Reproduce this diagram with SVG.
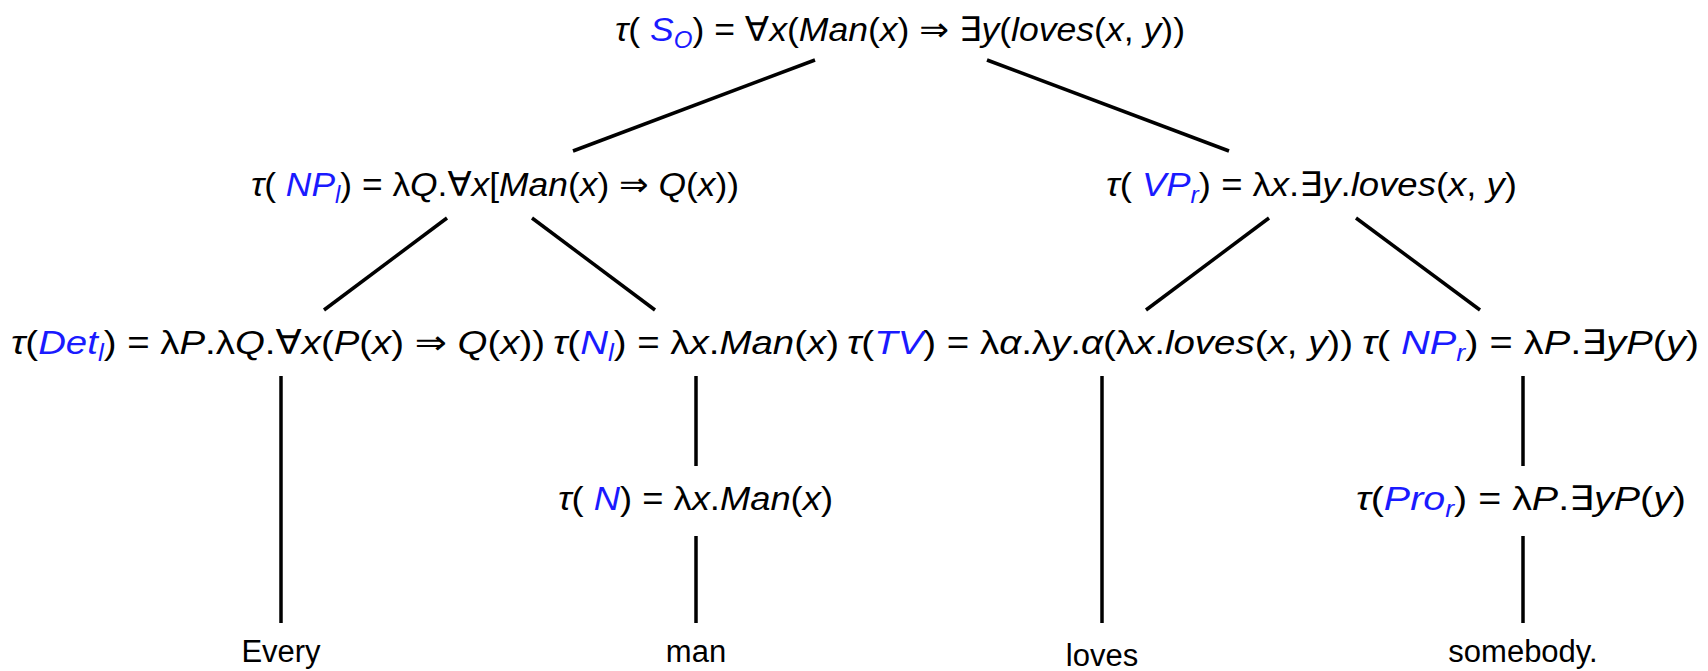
<svg xmlns="http://www.w3.org/2000/svg" width="1708" height="671" viewBox="0 0 1708 671">
<style>
.m{font-family:"Liberation Sans","DejaVu Sans",sans-serif;font-size:34px;fill:#000}
.i{font-style:italic}
.b{fill:#1a1aff}
.s{font-size:23px}
.w{font-family:"Liberation Sans",Arial,sans-serif;font-size:31px;fill:#000;text-anchor:middle}
.c line{stroke:#000;stroke-width:3.5;stroke-linecap:butt}
</style>
<rect width="1708" height="671" fill="#fff"/>
<g id="connectors" class="c">
<line x1="815" y1="60" x2="573" y2="151"/>
<line x1="987" y1="60" x2="1229" y2="151"/>
<line x1="447" y1="218" x2="324" y2="310"/>
<line x1="532" y1="218" x2="655" y2="310"/>
<line x1="1269" y1="218" x2="1146" y2="310"/>
<line x1="1356" y1="218" x2="1480" y2="310"/>
<line x1="281" y1="376" x2="281" y2="623"/>
<line x1="696" y1="376" x2="696" y2="466"/>
<line x1="696" y1="536" x2="696" y2="623"/>
<line x1="1102" y1="376" x2="1102" y2="623"/>
<line x1="1523" y1="376" x2="1523" y2="466"/>
<line x1="1523" y1="536" x2="1523" y2="623"/>
</g>
<g id="S">
<text class="m" x="615" y="41" textLength="570" lengthAdjust="spacingAndGlyphs"><tspan class="i">τ</tspan>( <tspan class="i b">S</tspan><tspan class="i b s" dy="7">O</tspan><tspan dy="-7">)</tspan> = ∀<tspan class="i">x</tspan>(<tspan class="i">Man</tspan>(<tspan class="i">x</tspan>) ⇒ ∃<tspan class="i">y</tspan>(<tspan class="i">loves</tspan>(<tspan class="i">x</tspan>, <tspan class="i">y</tspan>))</text>
</g>
<g id="NPl">
<text class="m" x="251" y="196" textLength="488" lengthAdjust="spacingAndGlyphs"><tspan class="i">τ</tspan>( <tspan class="i b">NP</tspan><tspan class="i b s" dy="7">l</tspan><tspan dy="-7">)</tspan> = λ<tspan class="i">Q</tspan>.∀<tspan class="i">x</tspan>[<tspan class="i">Man</tspan>(<tspan class="i">x</tspan>) ⇒ <tspan class="i">Q</tspan>(<tspan class="i">x</tspan>))</text>
</g>
<g id="VPr">
<text class="m" x="1106" y="196" textLength="411" lengthAdjust="spacingAndGlyphs"><tspan class="i">τ</tspan>( <tspan class="i b">VP</tspan><tspan class="i b s" dy="7">r</tspan><tspan dy="-7">)</tspan> = λ<tspan class="i">x</tspan>.∃<tspan class="i">y</tspan>.<tspan class="i">loves</tspan>(<tspan class="i">x</tspan>, <tspan class="i">y</tspan>)</text>
</g>
<g id="Detl">
<text class="m" x="11" y="354" textLength="534" lengthAdjust="spacingAndGlyphs"><tspan class="i">τ</tspan>(<tspan class="i b">Det</tspan><tspan class="i b s" dy="7">l</tspan><tspan dy="-7">)</tspan> = λ<tspan class="i">P</tspan>.λ<tspan class="i">Q</tspan>.∀<tspan class="i">x</tspan>(<tspan class="i">P</tspan>(<tspan class="i">x</tspan>) ⇒ <tspan class="i">Q</tspan>(<tspan class="i">x</tspan>))</text>
</g>
<g id="Nl">
<text class="m" x="553" y="354" textLength="286" lengthAdjust="spacingAndGlyphs"><tspan class="i">τ</tspan>(<tspan class="i b">N</tspan><tspan class="i b s" dy="7">l</tspan><tspan dy="-7">)</tspan> = λ<tspan class="i">x</tspan>.<tspan class="i">Man</tspan>(<tspan class="i">x</tspan>)</text>
</g>
<g id="TV">
<text class="m" x="847" y="354" textLength="506" lengthAdjust="spacingAndGlyphs"><tspan class="i">τ</tspan>(<tspan class="i b">TV</tspan>) = λ<tspan class="i">α</tspan>.λ<tspan class="i">y</tspan>.<tspan class="i">α</tspan>(λ<tspan class="i">x</tspan>.<tspan class="i">loves</tspan>(<tspan class="i">x</tspan>, <tspan class="i">y</tspan>))</text>
</g>
<g id="NPr">
<text class="m" x="1362" y="354" textLength="337" lengthAdjust="spacingAndGlyphs"><tspan class="i">τ</tspan>( <tspan class="i b">NP</tspan><tspan class="i b s" dy="7">r</tspan><tspan dy="-7">)</tspan> = λ<tspan class="i">P</tspan>.∃<tspan class="i">yP</tspan>(<tspan class="i">y</tspan>)</text>
</g>
<g id="N">
<text class="m" x="558" y="510" textLength="275" lengthAdjust="spacingAndGlyphs"><tspan class="i">τ</tspan>( <tspan class="i b">N</tspan>) = λ<tspan class="i">x</tspan>.<tspan class="i">Man</tspan>(<tspan class="i">x</tspan>)</text>
</g>
<g id="Pror">
<text class="m" x="1356" y="510" textLength="330" lengthAdjust="spacingAndGlyphs"><tspan class="i">τ</tspan>(<tspan class="i b">Pro</tspan><tspan class="i b s" dy="7">r</tspan><tspan dy="-7">)</tspan> = λ<tspan class="i">P</tspan>.∃<tspan class="i">yP</tspan>(<tspan class="i">y</tspan>)</text>
</g>
<g id="Every"><text class="w" x="281" y="662">Every</text></g>
<g id="man"><text class="w" x="696" y="662">man</text></g>
<g id="loves"><text class="w" x="1102" y="666">loves</text></g>
<g id="somebody"><text class="w" x="1523" y="662">somebody.</text></g>
</svg>
